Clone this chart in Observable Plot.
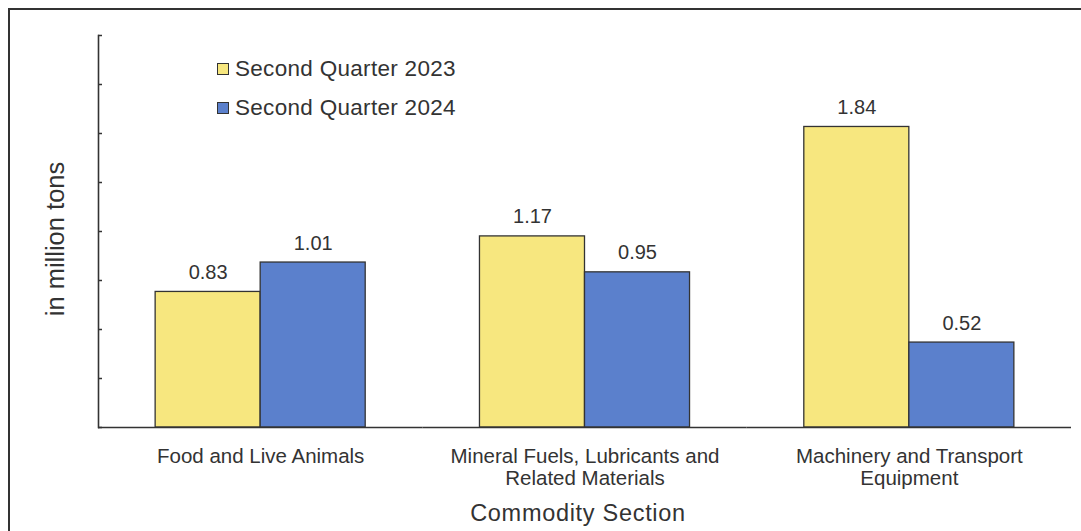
<!DOCTYPE html>
<html>
<head>
<meta charset="utf-8">
<script src="https://cdn.jsdelivr.net/npm/d3@7"></script>
<script src="https://cdn.jsdelivr.net/npm/@observablehq/plot@0.6"></script>
<style>
  html, body { margin: 0; padding: 0; background: #ffffff; }
  body { font-family: "Liberation Sans", Arial, sans-serif; }
  #wrap { position: relative; width: 1081px; height: 531px; overflow: hidden; background: #fff; }
  #border { position: absolute; left: 8px; top: 8px; width: 1200px; height: 700px;
            border-left: 2px solid #333; border-top: 2px solid #333; box-sizing: border-box; }
  #chart { position: absolute; left: 0; top: 0; }
  .sw { position: absolute; left: 217px; width: 12px; height: 12px; border: 1px solid #333; box-sizing: border-box; }
  .lg { position: absolute; left: 235px; font-size: 22.5px; line-height: 1; color: #333; white-space: nowrap; letter-spacing: 0.3px; }
  #xtitle { position: absolute; left: 578px; top: 502px; transform: translateX(-50%);
            font-size: 23.5px; line-height: 1; color: #333; letter-spacing: 0.7px; white-space: nowrap; }
  #ytitle { position: absolute; left: 56px; top: 239px; transform: translate(-50%, -50%) rotate(-90deg);
            font-size: 25.5px; line-height: 1; color: #333; white-space: nowrap; }
</style>
</head>
<body>
<div id="wrap">
  <div id="border"></div>
  <div id="chart"></div>
  <div id="legend"></div>
  <div id="xtitle"></div>
  <div id="ytitle"></div>
</div>
<script>
// ---- data ----
const categories = [
  "Food and Live Animals",
  "Mineral Fuels, Lubricants and\nRelated Materials",
  "Machinery and Transport\nEquipment"
];
const seriesNames = ["Second Quarter 2023", "Second Quarter 2024"];
const values2023 = [0.83, 1.17, 1.84];
const values2024 = [1.01, 0.95, 0.52];
const yTicks = [0, 0.3, 0.6, 0.9, 1.2, 1.5, 1.8, 2.1, 2.4];
const seriesColors = ["#f7e77f", "#5b80cc"];
const yLabel = "in million tons";
const xLabel = "Commodity Section";

const rows = [];
categories.forEach((c, i) => {
  rows.push({category: c, series: seriesNames[0], value: values2023[i]});
  rows.push({category: c, series: seriesNames[1], value: values2024[i]});
});

const chart = Plot.plot({
  width: 1081,
  height: 531,
  marginLeft: 98,
  marginRight: 10,
  marginTop: 35,
  marginBottom: 104,
  style: {fontFamily: "'Liberation Sans', Arial, sans-serif", color: "#333", background: "transparent"},
  fx: {domain: categories, padding: 0, round: false, label: null},
  x: {domain: seriesNames, paddingInner: 0, paddingOuter: 0.544, round: false, axis: null},
  y: {domain: [0, 2.4]},
  color: {domain: seriesNames, range: seriesColors},
  marks: [
    Plot.barY(rows, {fx: "category", x: "series", y: "value", fill: "series", stroke: "#333", strokeWidth: 1.3}),
    Plot.ruleY([0], {stroke: "#333", strokeWidth: 1.6}),
    Plot.frame({anchor: "left", facetAnchor: "left", stroke: "#333", strokeWidth: 1.6}),
    Plot.axisY({ticks: yTicks, tickSize: -4, tickFormat: () => "", label: null, stroke: "#333", strokeWidth: 1.5}),
    Plot.axisFx({anchor: "bottom", tickSize: 0, tickPadding: 20, fontSize: 20.5, lineHeight: 1.07, label: null, fill: "#333"}),
    Plot.text(rows, {fx: "category", x: "series", y: "value", text: d => d.value.toFixed(2),
                     lineAnchor: "bottom", dy: -13, fontSize: 20, fill: "#333"})
  ]
});
document.getElementById("chart").appendChild(chart);

// legend
const legend = document.getElementById("legend");
const rowTops = [58, 97];
seriesNames.forEach((s, i) => {
  const sw = document.createElement("div");
  sw.className = "sw";
  sw.style.top = (rowTops[i] + 5) + "px";
  sw.style.background = seriesColors[i];
  legend.appendChild(sw);
  const t = document.createElement("div");
  t.className = "lg";
  t.style.top = rowTops[i] + "px";
  t.textContent = s;
  legend.appendChild(t);
});
document.getElementById("xtitle").textContent = xLabel;
document.getElementById("ytitle").textContent = yLabel;
</script>
</body>
</html>
